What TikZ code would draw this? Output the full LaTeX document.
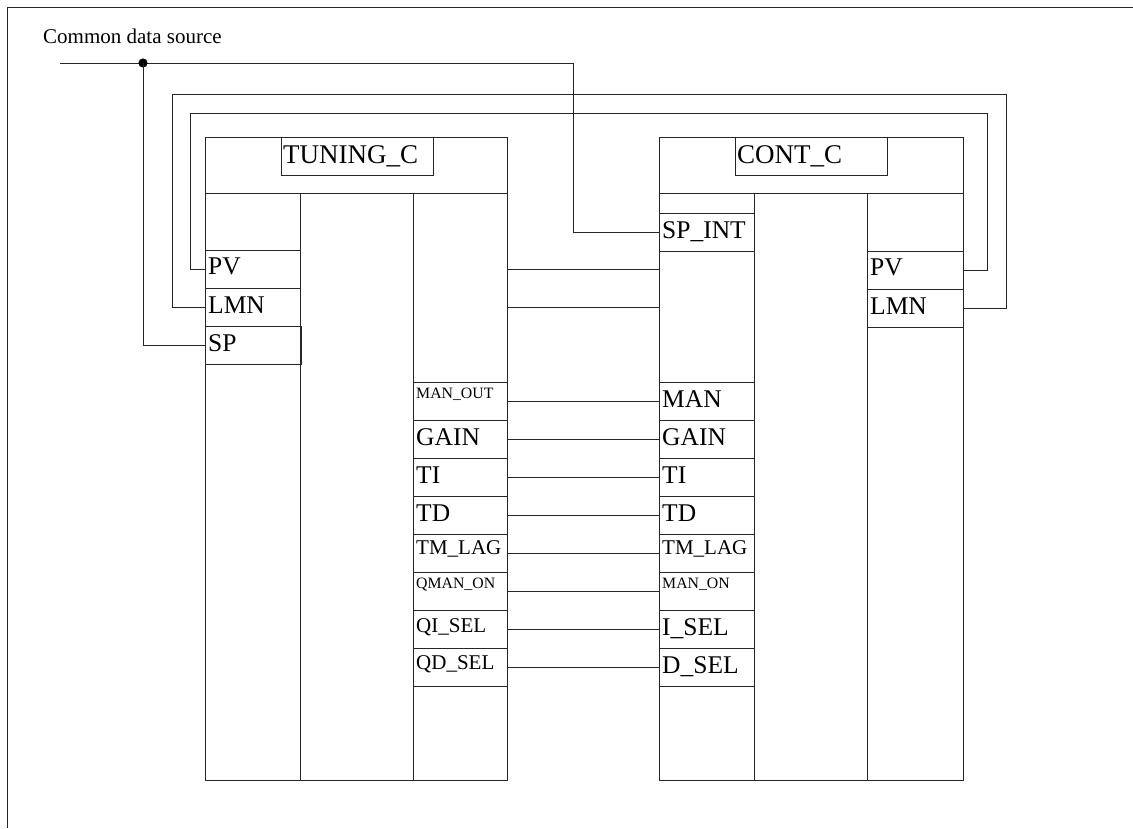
\documentclass[tikz,border=0pt]{standalone}
\usepackage{fontspec}
\setmainfont{Liberation Serif}
\usetikzlibrary{calc}
\tikzset{
  ln/.style={draw=black!85, line width=0.9pt},
  blk/.style={ln, rectangle, inner sep=0pt, anchor=north west},
  portbox/.style={ln, rectangle, inner sep=0pt, anchor=north west, minimum height=38pt},
  ttl/.style={inner sep=0pt, font=\fontsize{27}{30}\selectfont},
  big/.style={inner sep=0pt, font=\fontsize{25.5}{28}\selectfont},
  mid/.style={inner sep=0pt, font=\fontsize{21}{24}\selectfont},
  sml/.style={inner sep=0pt, font=\fontsize{15.8}{18}\selectfont},
  wire/.style={draw=black!85, line width=0.9pt},
}
\newcommand{\pbox}[8]{%
  \node[portbox, minimum width=#4pt] (#1) at (#2,#3) {};
  \node[#7, anchor=base west] (#1L) at ($(#1.north west)+(3,#8)$) {#6};
}
\begin{document}
\begin{tikzpicture}[x=1pt,y=-1pt]
\useasboundingbox (0,0) rectangle (1133,828);
% frame
\draw[ln] (7.5,828) -- (7.5,7.5) -- (1133,7.5);
\node[mid, anchor=base west] (cds) at (43,43.5) {Common data source};

% TUNING_C block
\node[blk, minimum width=302pt, minimum height=643pt] (tBlk) at (205,137) {};
\node[blk, minimum width=152pt, minimum height=38pt] (tTitle) at (281,137) {};
\node[ttl, anchor=base west] (tTitleL) at ($(tTitle.north west)+(2,26)$) {TUNING\_C};
\draw[ln] (205,193) -- (507,193);
\draw[ln] (300,193) -- (300,780);
\draw[ln] (413,193) -- (413,780);

% CONT_C block
\node[blk, minimum width=304pt, minimum height=643pt] (cBlk) at (659,137) {};
\node[blk, minimum width=152pt, minimum height=38pt] (cTitle) at (735,137) {};
\node[ttl, anchor=base west] (cTitleL) at ($(cTitle.north west)+(2,26)$) {CONT\_C};
\draw[ln] (659,193) -- (963,193);
\draw[ln] (754,193) -- (754,780);
\draw[ln] (867,193) -- (867,780);

% TUNING_C left ports
\pbox{tPV}{205}{250}{95}{38}{PV}{big}{24}
\pbox{tLMN}{205}{288}{95}{38}{LMN}{big}{25}
\pbox{tSP}{205}{326}{96}{38}{SP}{big}{25}

% TUNING_C right ports
\pbox{tMAN}{413}{382}{94}{38}{MAN\_OUT}{sml}{16}
\pbox{tGAIN}{413}{420}{94}{38}{GAIN}{big}{25}
\pbox{tTI}{413}{458}{94}{38}{TI}{big}{25}
\pbox{tTD}{413}{496}{94}{38}{TD}{big}{25}
\pbox{tTM}{413}{534}{94}{38}{TM\_LAG}{mid}{20}
\pbox{tQMAN}{413}{572}{94}{38}{QMAN\_ON}{sml}{16}
\pbox{tQI}{413}{610}{94}{38}{QI\_SEL}{mid}{22}
\pbox{tQD}{413}{648}{94}{38}{QD\_SEL}{mid}{21}

% CONT_C left ports
\pbox{cSPINT}{659}{213}{95}{38}{SP\_INT}{big}{25}
\pbox{cMAN}{659}{382}{95}{38}{MAN}{big}{25}
\pbox{cGAIN}{659}{420}{95}{38}{GAIN}{big}{25}
\pbox{cTI}{659}{458}{95}{38}{TI}{big}{25}
\pbox{cTD}{659}{496}{95}{38}{TD}{big}{25}
\pbox{cTM}{659}{534}{95}{38}{TM\_LAG}{mid}{20}
\pbox{cMANON}{659}{572}{95}{38}{MAN\_ON}{sml}{16}
\pbox{cISEL}{659}{610}{95}{38}{I\_SEL}{big}{25}
\pbox{cDSEL}{659}{648}{95}{38}{D\_SEL}{big}{25}

% CONT_C right ports
\pbox{cPV}{867}{251}{96}{38}{PV}{big}{24}
\pbox{cLMN}{867}{289}{96}{38}{LMN}{big}{25}

% common data source bus
\coordinate (busL) at (60,63);
\coordinate (dot) at (143,63);
\coordinate (busR) at (573,63);
\draw[wire] (busL) -- (busR) |- (cSPINT.west);
\fill[black] (dot) circle (4.6);
\draw[wire] (dot) |- (tSP.west);

% LMN loop (outer)
\coordinate (lmnL) at (172,94);
\coordinate (lmnR) at (1006,94);
\draw[wire] (tLMN.west) -| (lmnL) -- (lmnR) |- (cLMN.east);

% PV loop (inner)
\coordinate (pvL) at (190,113);
\coordinate (pvR) at (987,113);
\draw[wire] (tPV.west) -| (pvL) -- (pvR) |- (cPV.east);

% middle unlabelled connections
\coordinate (m1a) at (tBlk.east |- tPV.west);
\coordinate (m1b) at (cBlk.west |- tPV.west);
\coordinate (m2a) at (tBlk.east |- tLMN.west);
\coordinate (m2b) at (cBlk.west |- tLMN.west);
\draw[wire] (m1a) -- (m1b);
\draw[wire] (m2a) -- (m2b);

% port to port connections
\draw[wire] (tMAN.east) -- (cMAN.west);
\draw[wire] (tGAIN.east) -- (cGAIN.west);
\draw[wire] (tTI.east) -- (cTI.west);
\draw[wire] (tTD.east) -- (cTD.west);
\draw[wire] (tTM.east) -- (cTM.west);
\draw[wire] (tQMAN.east) -- (cMANON.west);
\draw[wire] (tQI.east) -- (cISEL.west);
\draw[wire] (tQD.east) -- (cDSEL.west);
\end{tikzpicture}
\end{document}
